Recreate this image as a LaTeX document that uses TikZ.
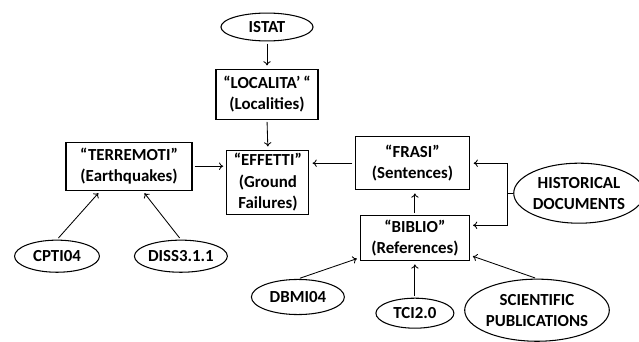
\documentclass[tikz,border=0pt]{standalone}
\usepackage{fontspec}
\setmainfont{Carlito}
\usetikzlibrary{shapes.geometric, arrows.meta}

\begin{document}
\begin{tikzpicture}[
  font=\fontsize{16}{20}\selectfont\bfseries,
  box/.style={draw, line width=1pt, align=center, inner sep=0pt},
  oval/.style={draw, ellipse, line width=1pt, align=center, inner sep=0pt},
  arr/.style={-{To[length=4pt,width=7pt]}, line width=0.8pt, shorten <=2pt, shorten >=3pt}
]
\useasboundingbox (0,0) rectangle (21.3,11.37);
% Centre column: ISTAT -> localities -> effects
\node[oval, minimum width=3.07cm, minimum height=0.93cm] (istat) at (8.9,10.47) {ISTAT};
\node[box, minimum width=3.4cm, minimum height=1.67cm] (loc) at (8.9,8.23) {“LOCALITA’\,“\\(Localities)};
\node[box, minimum width=2.73cm, minimum height=2.13cm] (eff) at (8.93,5.3) {“EFFETTI”\\(Ground\\Failures)};
\draw[arr] (istat.south) -- (loc.north);
\draw[arr] (loc.south) -- (eff.north);

% Left: earthquakes and their catalogues
\node[box, minimum width=4.2cm, minimum height=1.6cm] (terr) at (4.3,5.83) {“TERREMOTI”\\(Earthquakes)};
\node[oval, minimum width=2.83cm, minimum height=1.07cm] (cpti) at (1.9,2.83) {CPTI04};
\node[oval, minimum width=2.9cm, minimum height=1.07cm] (diss) at (6.03,2.83) {DISS3.1.1};
\draw[arr] (terr.east) -- (terr.east -| eff.west);
\draw[arr] (cpti.north) -- ([xshift=-0.95cm]terr.south);
\draw[arr] (diss.north) -- ([xshift=0.45cm]terr.south);

% Right: sentences, references and sources
\node[box, minimum width=3.83cm, minimum height=1.77cm] (frasi) at (13.75,5.93) {“FRASI”\\(Sentences)};
\node[box, minimum width=3.63cm, minimum height=1.5cm] (biblio) at (13.83,3.43) {“BIBLIO”\\(References)};
\node[oval, minimum width=3.87cm, minimum height=2cm] (hist) at (19.3,4.93) {HISTORICAL\\DOCUMENTS};
\node[oval, minimum width=3.1cm, minimum height=1.17cm] (dbmi) at (9.93,1.47) {DBMI04};
\node[oval, minimum width=2.6cm, minimum height=1cm] (tci) at (13.83,0.93) {TCI2.0};
\node[oval, minimum width=4.13cm, minimum height=2.07cm] (sci) at (17.9,1.03) {SCIENTIFIC\\PUBLICATIONS};
\coordinate (brk) at (16.93,4.93);
\draw[arr] (frasi.west) -- (frasi.west -| eff.east);
\draw[arr] (biblio.north) -- (biblio.north |- frasi.south);
\draw[line width=0.8pt] (hist.west) -- (brk);
\draw[arr, shorten <=0pt] (brk) |- (frasi.east);
\draw[arr, shorten <=0pt] (brk) |- ([yshift=0.43cm]biblio.east);
\draw[arr] (tci.north) -- (biblio.south);
\draw[arr] (dbmi.north) -- ([yshift=0.12cm]biblio.south west);
\draw[arr] (sci.north) -- ([yshift=0.2cm]biblio.south east);
\end{tikzpicture}
\end{document}
